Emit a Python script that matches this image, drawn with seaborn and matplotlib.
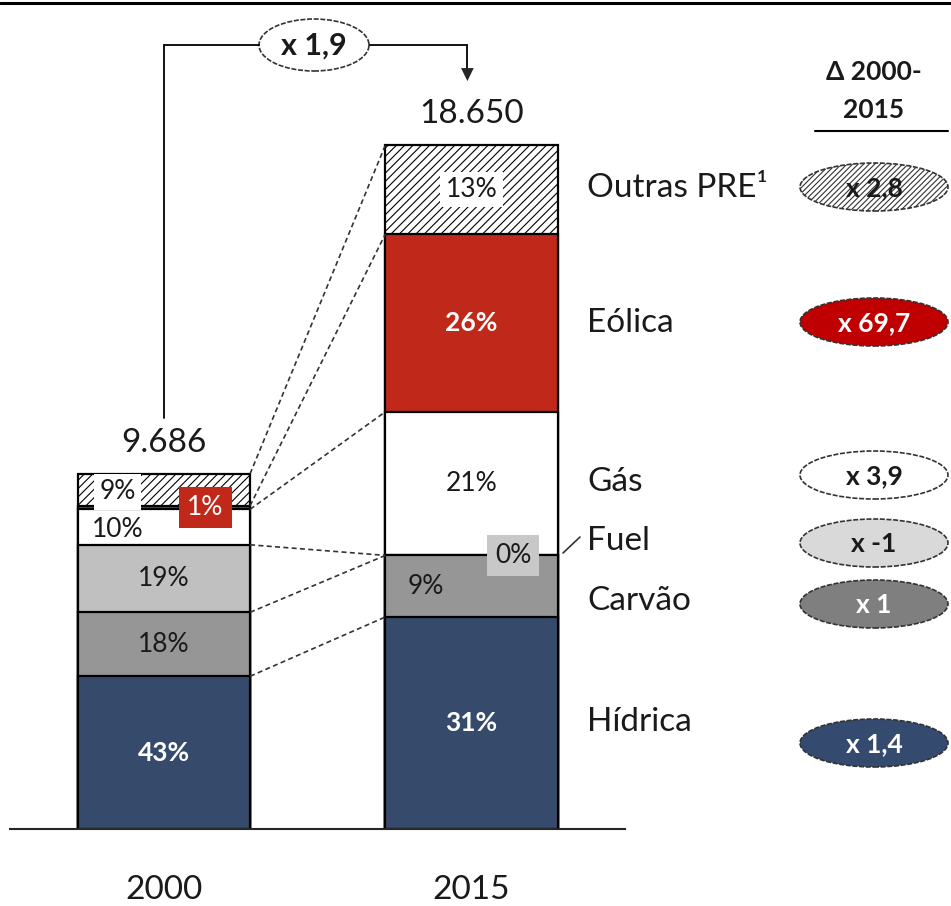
import matplotlib
matplotlib.use("Agg")
import matplotlib.pyplot as plt
from matplotlib.patches import Ellipse
import seaborn as sns
import pandas as pd

# data
years = ["2000", "2015"]
totals = [9686, 18650]
sources = ["Hídrica", "Carvão", "Fuel", "Gás", "Eólica", "Outras PRE¹"]
share_2000 = [43, 18, 19, 10, 1, 9]
share_2015 = [31, 9, 0, 21, 26, 13]
total_labels = ["9.686", "18.650"]
growth = ["x 1,4", "x 1", "x -1", "x 3,9", "x 69,7", "x 2,8"]
growth_total = "x 1,9"

bar_colors = ["#364B6B", "#969696", "#C0C0C0", "#FFFFFF", "#C0281A", "#FFFFFF"]
oval_colors = ["#344A6E", "#7F7F7F", "#D9D9D9", "#FFFFFF", "#C00000", "#FFFFFF"]
oval_text = ["white", "white", "#1a1a1a", "#1a1a1a", "white", "#1a1a1a"]
TXT = "#1a1a1a"

sns.set_style("white")
plt.rcParams['font.family'] = ['Lato', 'DejaVu Sans']
plt.rcParams['hatch.color'] = '#333333'
plt.rcParams['hatch.linewidth'] = 0.8

W, H = 951, 906
fig = plt.figure(figsize=(W / 100, H / 100), dpi=100)


def P(x, y):
    return (x / W, 1 - y / H)


base_px = 829
px_per_unit = (829 - 145) / 18650
ax = fig.add_axes([10.25 / W, (H - base_px) / H, 615 / W, base_px / H])

# segment values and stacked tops
shares = [share_2000, share_2015]
vals = {y: [s * t / 100 for s in sh] for y, t, sh in zip(years, totals, shares)}
df = pd.DataFrame(vals, index=sources)
cum = df.cumsum()

bw = 0.56
for i in range(len(sources) - 1, -1, -1):
    d = pd.DataFrame({"year": years, "top": cum.iloc[i].values})
    sns.barplot(data=d, x="year", y="top", order=years, color=bar_colors[i],
                saturation=1, width=bw, edgecolor="black", linewidth=1.6,
                errorbar=None, hatch="////" if i == len(sources) - 1 else None,
                ax=ax)

ax.set_xlim(-0.5, 1.5)
ax.set_ylim(0, base_px / px_per_unit)
sns.despine(ax=ax, left=True)
ax.spines['bottom'].set_linewidth(1.5)
ax.set_yticks([])
ax.set_xlabel("")
ax.set_ylabel("")
ax.tick_params(axis='x', length=0, pad=33, labelsize=24, labelcolor=TXT)

# dashed connectors between segment boundaries
for k in range(len(sources)):
    ax.plot([bw / 2, 1 - bw / 2], [cum.iloc[k, 0], cum.iloc[k, 1]],
            color="#333333", lw=1.2, ls=(0, (3, 2)), zorder=1)

# percentage labels
lab_style = {
    ("2000", "Hídrica"): (0, "white", "bold", None),
    ("2000", "Carvão"): (0, TXT, "normal", None),
    ("2000", "Fuel"): (0, TXT, "normal", None),
    ("2000", "Gás"): (-0.15, TXT, "normal", None),
    ("2000", "Eólica"): (0.135, "white", "normal", "#C0281A"),
    ("2000", "Outras PRE¹"): (-0.15, TXT, "normal", "white"),
    ("2015", "Hídrica"): (0, "white", "bold", None),
    ("2015", "Carvão"): (-0.15, TXT, "normal", None),
    ("2015", "Fuel"): (0.135, TXT, "normal", "#C8C8C8"),
    ("2015", "Gás"): (0, TXT, "normal", None),
    ("2015", "Eólica"): (0, "white", "bold", None),
    ("2015", "Outras PRE¹"): (0, TXT, "normal", "white"),
}
for j, yr in enumerate(years):
    for k, src in enumerate(sources):
        dx, col, fw, bg = lab_style[(yr, src)]
        ymid = cum.iloc[k, j] - df.iloc[k, j] / 2
        if yr == "2000" and src == "Gás":
            ymid -= 80
        if yr == "2000" and src == "Outras PRE¹":
            ymid -= 60
        bbox = None
        if bg is not None:
            pad = 0.3 if src in ("Eólica", "Fuel") else 0.2
            bbox = dict(boxstyle=f"square,pad={pad}", fc=bg, ec="none")
        ax.text(j + dx, ymid, f"{shares[j][k]}%",
                ha="center", va="center", color=col, fontsize=19,
                fontweight=fw, bbox=bbox, zorder=5)

# totals
for j, lab in enumerate(total_labels):
    ax.text(j, totals[j] + 840, lab, ha="center", va="center", fontsize=24,
            color=TXT)

# growth arrow on top
fig.add_artist(plt.Line2D([164 / W, 164 / W], [P(0, 418)[1], P(0, 45)[1]],
                          color="black", lw=1.3))
fig.add_artist(plt.Line2D([164 / W, 259 / W], [P(0, 45)[1]] * 2, color="black", lw=1.3))
fig.add_artist(plt.Line2D([369 / W, 467 / W], [P(0, 45)[1]] * 2, color="black", lw=1.3))
fig.add_artist(plt.Line2D([467 / W, 467 / W], [P(0, 45)[1], P(0, 70)[1]],
                          color="black", lw=1.3))
fig.text(*P(467, 75), "▼", ha="center", va="center", fontsize=12,
         family="DejaVu Sans")
fig.add_artist(Ellipse(P(314, 45), 110 / W, 52 / H, fc="white", ec="#333333",
                       lw=1.2, ls=(0, (3, 1)), transform=fig.transFigure))
fig.text(*P(314, 46), growth_total, ha="center", va="center", fontsize=22,
         fontweight="bold", color=TXT)

# top border
fig.add_artist(plt.Line2D([0, 1], [P(0, 3)[1]] * 2, color="black", lw=2.2))

# right side labels
name_y = [722, 601, 541, 482, 323, 188]
oval_y = [743, 604, 543, 475, 322, 187]
for k, src in enumerate(sources):
    fig.text(*P(587, name_y[k]), src, ha="left", va="center", fontsize=24,
             color=TXT)
    e = Ellipse(P(874, oval_y[k]), 148 / W, 48 / H, fc=oval_colors[k],
                ec="#333333", lw=1.2, ls=(0, (3, 1)), transform=fig.transFigure,
                hatch="//////" if k == len(sources) - 1 else None)
    fig.add_artist(e)
    fig.text(*P(874, oval_y[k] + 1), growth[k], ha="center", va="center",
             fontsize=19, fontweight="bold", color=oval_text[k])
fig.add_artist(plt.Line2D([563 / W, 580 / W], [P(0, 553)[1], P(0, 537)[1]],
                          color="#333333", lw=1.2))

# delta header
fig.text(*P(874, 72), "Δ 2000-", ha="center", va="center", fontsize=19,
         fontweight="bold", color=TXT)
fig.text(*P(874, 110), "2015", ha="center", va="center", fontsize=19,
         fontweight="bold", color=TXT)
fig.add_artist(plt.Line2D([815 / W, 948 / W], [P(0, 131)[1]] * 2, color="black",
                          lw=1.5))

fig.savefig("out.png", dpi=100)
